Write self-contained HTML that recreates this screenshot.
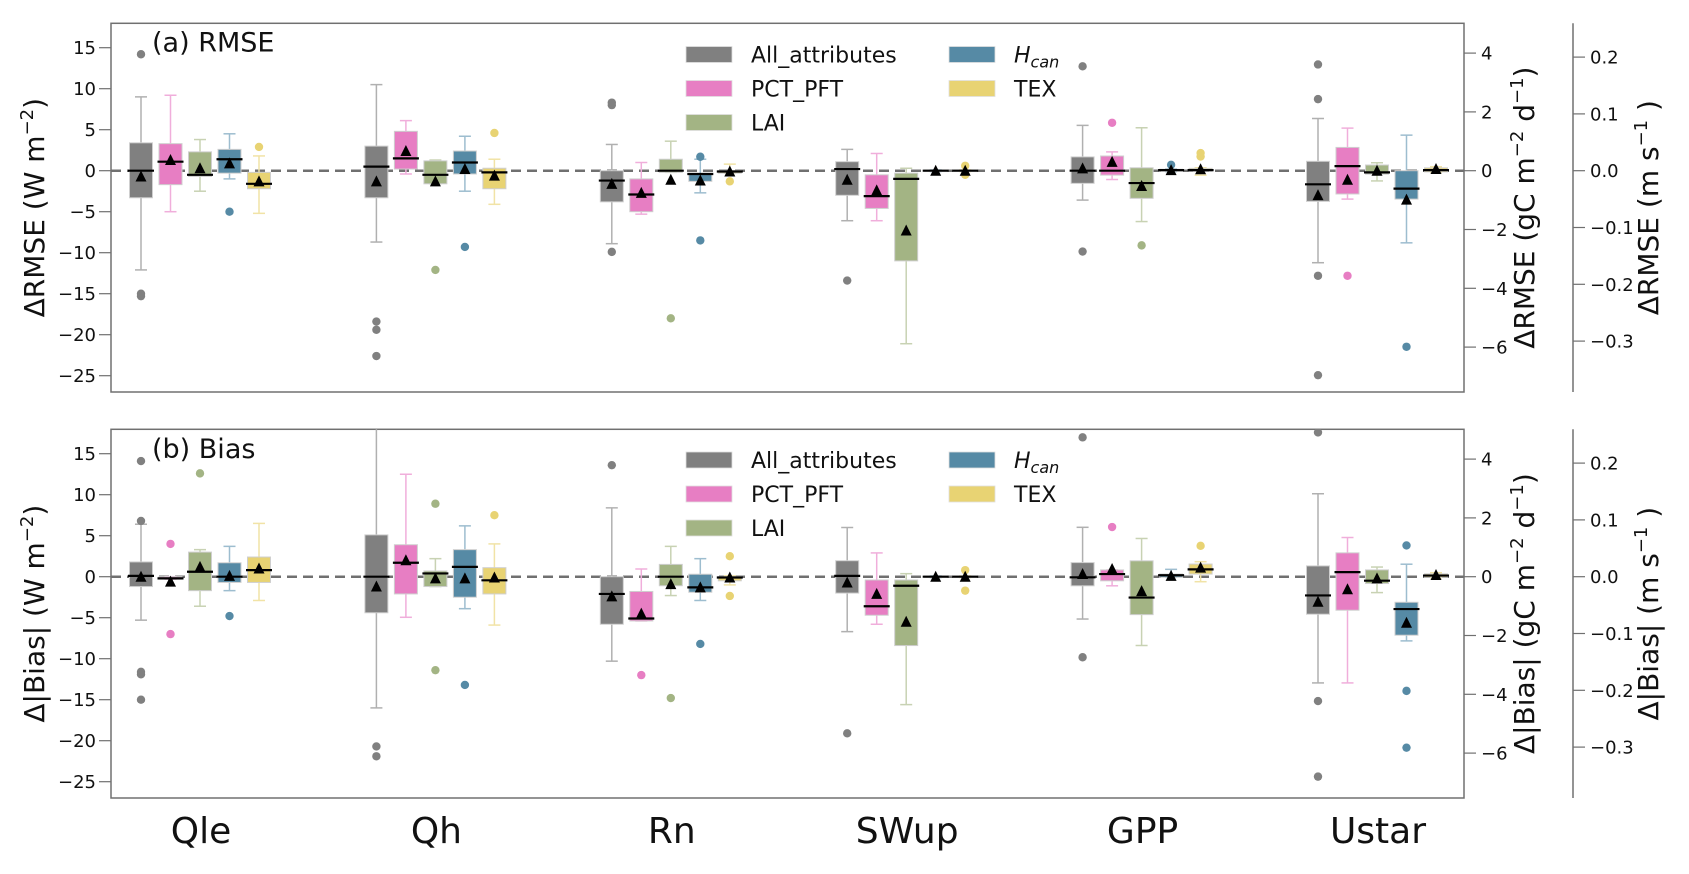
<!DOCTYPE html>
<html><head><meta charset="utf-8"><style>
html,body{margin:0;padding:0;background:#fff;}
svg{display:block;font-family:"DejaVu Sans","Liberation Sans",sans-serif;}
</style></head><body>
<svg id="chart" width="1689" height="874" viewBox="0 0 1689 874" xmlns="http://www.w3.org/2000/svg"></svg>
<script>
// ---- data ----
const categories = ["Qle","Qh","Rn","SWup","GPP","Ustar"];
const seriesNames = ["All_attributes","PCT_PFT","LAI","H_can","TEX"];
const seriesColors = ["#808080","#e77ec3","#a3b484","#568aa5","#e8d373"];
const whiskerColors = ["#b0b0b0","#f0aedb","#c8d2b3","#9dbdcf","#f1e3a6"];
// [group][series]  (groups 0-3 W m-2, group 4 gC m-2 d-1, group 5 m s-1)
const rmseLo   = [[-12.1,-5,-2.5,-1.0,-5.2],[-8.7,-0.4,-1.6,-2.5,-4.1],[-8.9,-5.3,-0.2,-2.7,-0.3],[-6.1,-6.1,-21.1,-0.1,-0.1],[-1.0,-0.3,-1.73,-0.03,-0.15],[-0.162,-0.05,-0.018,-0.127,-0.003]];
const rmseQ1   = [[-3.3,-1.7,-0.7,-0.3,-2.2],[-3.3,0.2,-1.6,-0.4,-2.2],[-3.8,-5.0,-0.2,-1.3,-0.3],[-3.0,-4.6,-11.0,-0.1,-0.1],[-0.43,-0.15,-0.94,-0.02,-0.02],[-0.054,-0.041,-0.006,-0.05,-0.002]];
const rmseMed  = [[0,1.1,-0.5,1.4,-1.6],[0.5,1.5,-0.5,1.0,-0.2],[-1.2,-2.9,0,-0.4,-0.1],[0.2,-3.1,-1.0,0,0],[0,0,-0.42,0.02,0.02],[-0.024,0.008,-0.003,-0.0315,0.001]];
const rmseQ3   = [[3.4,3.3,2.3,2.6,-0.2],[3.0,4.8,1.2,2.4,0.3],[0,-1.0,1.4,-0.4,0],[1.1,-0.5,-0.3,0.1,0.1],[0.47,0.5,0.1,0.05,0.08],[0.0165,0.041,0.01,0,0.005]];
const rmseHi   = [[9.0,9.2,3.8,4.5,1.8],[10.5,6.1,1.3,4.2,1.4],[3.2,1.0,3.6,1.4,0.8],[2.6,2.1,0.3,0.1,0.1],[1.54,0.64,1.46,0.06,0.1],[0.092,0.075,0.014,0.0626,0.007]];
const rmseMean = [[-0.7,1.3,0.3,0.9,-1.3],[-1.3,2.4,-1.3,0.2,-0.6],[-1.6,-2.7,-1.1,-1.2,-0.1],[-1.1,-2.4,-7.3,0,0],[0.08,0.3,-0.52,0.02,0.05],[-0.043,-0.016,0,-0.051,0.003]];
const rmseOut  = [[[14.2,-15,-15.3],[],[],[-5],[2.9]],[[-18.4,-19.4,-22.6],[],[-12.1],[-9.3],[4.6]],[[8.0,8.3,-9.9],[],[-18.0],[-8.5,1.7],[-1.3]],[[-13.4],[],[],[],[0.6,-0.5]],[[3.55,-2.75],[1.63],[-2.54],[0.2],[0.6,0.48]],[[0.187,0.126,-0.185,-0.36],[-0.185],[],[-0.31],[]]];

const biasLo   = [[-5.3,-0.3,-3.6,-1.7,-2.9],[-16.0,-4.95,-1.2,-3.9,-5.9],[-10.3,-5.4,-2.3,-2.9,-1.0],[-6.7,-5.8,-15.6,-0.1,-0.1],[-1.44,-0.31,-2.34,-0.02,-0.17],[-0.187,-0.187,-0.028,-0.113,-0.002]];
const biasQ1   = [[-1.2,-0.3,-1.7,-0.7,-0.7],[-4.4,-2.1,-1.2,-2.5,-2.1],[-5.8,-5.4,-1.1,-1.9,-0.5],[-2.0,-4.7,-8.4,-0.1,-0.1],[-0.31,-0.14,-1.29,-0.02,0.09],[-0.066,-0.059,-0.012,-0.103,-0.001]];
const biasMed  = [[0.1,-0.2,0.6,0,0.8],[0,1.7,0.4,1.2,-0.44],[-2.1,-5.1,0,-1.3,-0.1],[0.1,-3.6,-1.1,0,0],[-0.02,0.09,-0.71,0.05,0.25],[-0.033,0.008,-0.007,-0.057,0.002]];
const biasQ3   = [[1.8,0,3.0,1.7,2.4],[5.1,3.9,0.7,3.3,1.1],[0,-1.8,1.5,0.3,0],[1.95,-0.4,-0.4,0.1,0.1],[0.48,0.23,0.54,0.09,0.43],[0.019,0.042,0.012,-0.045,0.005]];
const biasHi   = [[6.4,0,3.3,3.7,6.5],[21,12.5,2.2,6.2,4.0],[8.4,0.94,3.7,2.2,0.1],[6.0,2.9,0.37,0.1,0.1],[1.68,0.23,1.3,0.25,0.51],[0.146,0.069,0.017,0.022,0.007]];
const biasMean = [[0,-0.6,1.2,0.1,1.0],[-1.2,2.0,-0.2,-0.2,-0.1],[-2.4,-4.5,-0.9,-1.3,-0.1],[-0.7,-2.1,-5.5,0,0],[0.09,0.26,-0.49,0.03,0.31],[-0.044,-0.022,-0.003,-0.081,0.003]];
const biasOut  = [[[14.1,6.8,-11.6,-11.9,-15],[4.0,-7.0],[12.6],[-4.8],[]],[[-20.7,-21.9],[],[8.9,-11.4],[-13.2],[7.5]],[[13.6],[-12.0],[-14.8],[-8.2],[2.5,-2.35]],[[-19.1],[],[],[],[0.8,-1.7]],[[4.74,-2.74],[1.69],[],[],[1.05]],[[0.254,-0.219,-0.352],[],[],[0.055,-0.201,-0.301],[]]];

const leftTicks = [15,10,5,0,-5,-10,-15,-20,-25];
const gcTicks = [4,2,0,-2,-4,-6];
const msTicks = [0.2,0.1,0.0,-0.1,-0.2,-0.3];

// ---- layout ----
const NS="http://www.w3.org/2000/svg";
const svg=document.getElementById('chart');
const X0=111, X1=1464, AX2=1573;
const GC0=200, GSTEP=235.4, BSTEP=29.5, BW=23;
const panels=[
 {top:23.3,bot:392,zero:170.7,name:"rmse",label:"(a) RMSE",ylab:"ΔRMSE",lo:rmseLo,q1:rmseQ1,med:rmseMed,q3:rmseQ3,hi:rmseHi,mean:rmseMean,out:rmseOut,lblY:51.7},
 {top:429.3,bot:798,zero:576.7,name:"bias",label:"(b) Bias",ylab:"Δ|Bias|",lo:biasLo,q1:biasQ1,med:biasMed,q3:biasQ3,hi:biasHi,mean:biasMean,out:biasOut,lblY:458}
];
const PX_W=8.2, PX_GC=29.4, PX_MS=568;
function pxPer(g){return g<4?PX_W:(g===4?PX_GC:PX_MS);}
function yScale(p,g,v){return p.zero - v*pxPer(g);}
function xScale(g,s){return GC0 + g*GSTEP + (s-2)*BSTEP;}
function mk(tag,attrs,parent){const e=document.createElementNS(NS,tag);for(const k in attrs)e.setAttribute(k,attrs[k]);(parent||svg).appendChild(e);return e;}
function fmt(v,d){const s=v.toFixed(d);return s.replace('-','−');}
const defs=mk('defs',{});

panels.forEach((p,pi)=>{
  const cp=mk('clipPath',{id:'clip-'+p.name},defs);
  mk('rect',{x:X0,y:p.top,width:X1-X0,height:p.bot-p.top},cp);
  const g0=mk('g',{});
  
  
  const frame=mk('rect',{x:X0,y:p.top,width:X1-X0,height:p.bot-p.top,fill:'none',stroke:'#707070','stroke-width':1.5},g0);
  
  
  const sp2=mk('line',{x1:AX2,x2:AX2,y1:p.top,y2:p.bot,stroke:'#707070','stroke-width':1.5},g0);
  
  
  leftTicks.forEach(t=>{
    const y=yScale(p,0,t);
    mk('line',{x1:X0-12,x2:X0,y1:y,y2:y,stroke:'#707070','stroke-width':1.2},g0);
    const tx=mk('text',{x:X0-15,y:y+6.5,'text-anchor':'end','font-size':18,fill:'#111'},g0);
    tx.textContent=fmt(t,0);
    
    
  });
  gcTicks.forEach(t=>{
    const y=yScale(p,4,t);
    mk('line',{x1:X1,x2:X1+12,y1:y,y2:y,stroke:'#707070','stroke-width':1.2},g0);
    const tx=mk('text',{x:X1+17,y:y+6.5,'font-size':18,fill:'#111'},g0);
    tx.textContent=fmt(t,0);
    
    
  });
  msTicks.forEach(t=>{
    const y=yScale(p,5,t);
    mk('line',{x1:AX2,x2:AX2+12,y1:y,y2:y,stroke:'#707070','stroke-width':1.2},g0);
    const tx=mk('text',{x:AX2+17,y:y+6.5,'font-size':18,fill:'#111'},g0);
    tx.textContent=fmt(t,1);
    
    
  });
  const cy=(p.top+p.bot)/2;
  const lt=mk('text',{transform:`translate(44,${cy}) rotate(-90)`,'text-anchor':'middle','font-size':28,fill:'#111'},g0);
  lt.innerHTML=p.ylab+' (W m<tspan font-size="18" dy="-11">−2</tspan><tspan dy="11">)</tspan>';
  
  
  const rt=mk('text',{transform:`translate(1534,${cy}) rotate(-90)`,'text-anchor':'middle','font-size':28,fill:'#111'},g0);
  rt.innerHTML=p.ylab+' (gC m<tspan font-size="18" dy="-11">−2</tspan><tspan dy="11"> d</tspan><tspan font-size="18" dy="-11">−1</tspan><tspan dy="11">)</tspan>';
  
  
  const rt2=mk('text',{transform:`translate(1658,${cy}) rotate(-90)`,'text-anchor':'middle','font-size':28,fill:'#111'},g0);
  rt2.innerHTML=p.ylab+' (m s<tspan font-size="18" dy="-11">−1</tspan><tspan dy="11"> )</tspan>';
  
  
  const zl=mk('line',{x1:X0,x2:X1,y1:p.zero,y2:p.zero,stroke:'#707070','stroke-width':2.5,'stroke-dasharray':'10,6'},g0);
  
  
  const plotG=mk('g',{'clip-path':'url(#clip-'+p.name+')'},g0);
  
  
  categories.forEach((c,g)=>{
    seriesNames.forEach((sn,s)=>{
      const x=xScale(g,s);
      const bg=mk('g',{},plotG);
      
      
      const yl=yScale(p,g,p.lo[g][s]), yq1=yScale(p,g,p.q1[g][s]), ym=yScale(p,g,p.med[g][s]);
      const yq3=yScale(p,g,p.q3[g][s]), yh=yScale(p,g,p.hi[g][s]), ymean=yScale(p,g,p.mean[g][s]);
      const wc=whiskerColors[s];
      mk('line',{x1:x,x2:x,y1:yh,y2:yq3,stroke:wc,'stroke-width':1.5},bg);
      mk('line',{x1:x,x2:x,y1:yq1,y2:yl,stroke:wc,'stroke-width':1.5},bg);
      mk('line',{x1:x-6,x2:x+6,y1:yh,y2:yh,stroke:wc,'stroke-width':1.5},bg);
      mk('line',{x1:x-6,x2:x+6,y1:yl,y2:yl,stroke:wc,'stroke-width':1.5},bg);
      mk('rect',{x:x-BW/2,y:Math.min(yq1,yq3),width:BW,height:Math.max(1,Math.abs(yq1-yq3)),fill:seriesColors[s],stroke:'#cfcfcf','stroke-width':1},bg);
      mk('line',{x1:x-BW/2-1.5,x2:x+BW/2+1.5,y1:ym,y2:ym,stroke:'#000','stroke-width':2.2},bg);
      p.out[g][s].forEach(v=>{
        const o=mk('circle',{cx:x,cy:yScale(p,g,v),r:4.2,fill:seriesColors[s]},bg);
        
        
      });
      const tri=mk('path',{d:`M${x-5.5},${ymean+5} L${x+5.5},${ymean+5} L${x},${ymean-6} Z`,fill:'#000'},bg);
      
      
    });
  });
  const pl=mk('text',{x:152,y:p.lblY,'font-size':27,fill:'#111'},g0);
  pl.textContent=p.label;
  
  
  const lg=mk('g',{},g0);
  
  
  const ly0 = pi===0?54.5:460;
  seriesNames.forEach((sn,s)=>{
    const col = s<3?0:1, row = s<3?s:s-3;
    const lx = col===0?686:949;
    const ly = ly0 + row*34;
    const e=mk('g',{},lg);
    
    
    mk('rect',{x:lx,y:ly-8,width:46,height:16,fill:seriesColors[s],stroke:'#e0e0e0','stroke-width':0.8},e);
    const t=mk('text',{x:lx+65,y:ly+8,'font-size':22,fill:'#111'},e);
    if(sn==='H_can'){t.innerHTML='<tspan font-style="italic">H</tspan><tspan font-style="italic" font-size="16" dy="5">can</tspan>';}
    else t.textContent=sn;
  });
});
categories.forEach((c,g)=>{
  const t=mk('text',{x:GC0+g*GSTEP+1,y:843,'text-anchor':'middle','font-size':36,fill:'#111'});
  t.textContent=c;
  
  
});
</script>
</body></html>
